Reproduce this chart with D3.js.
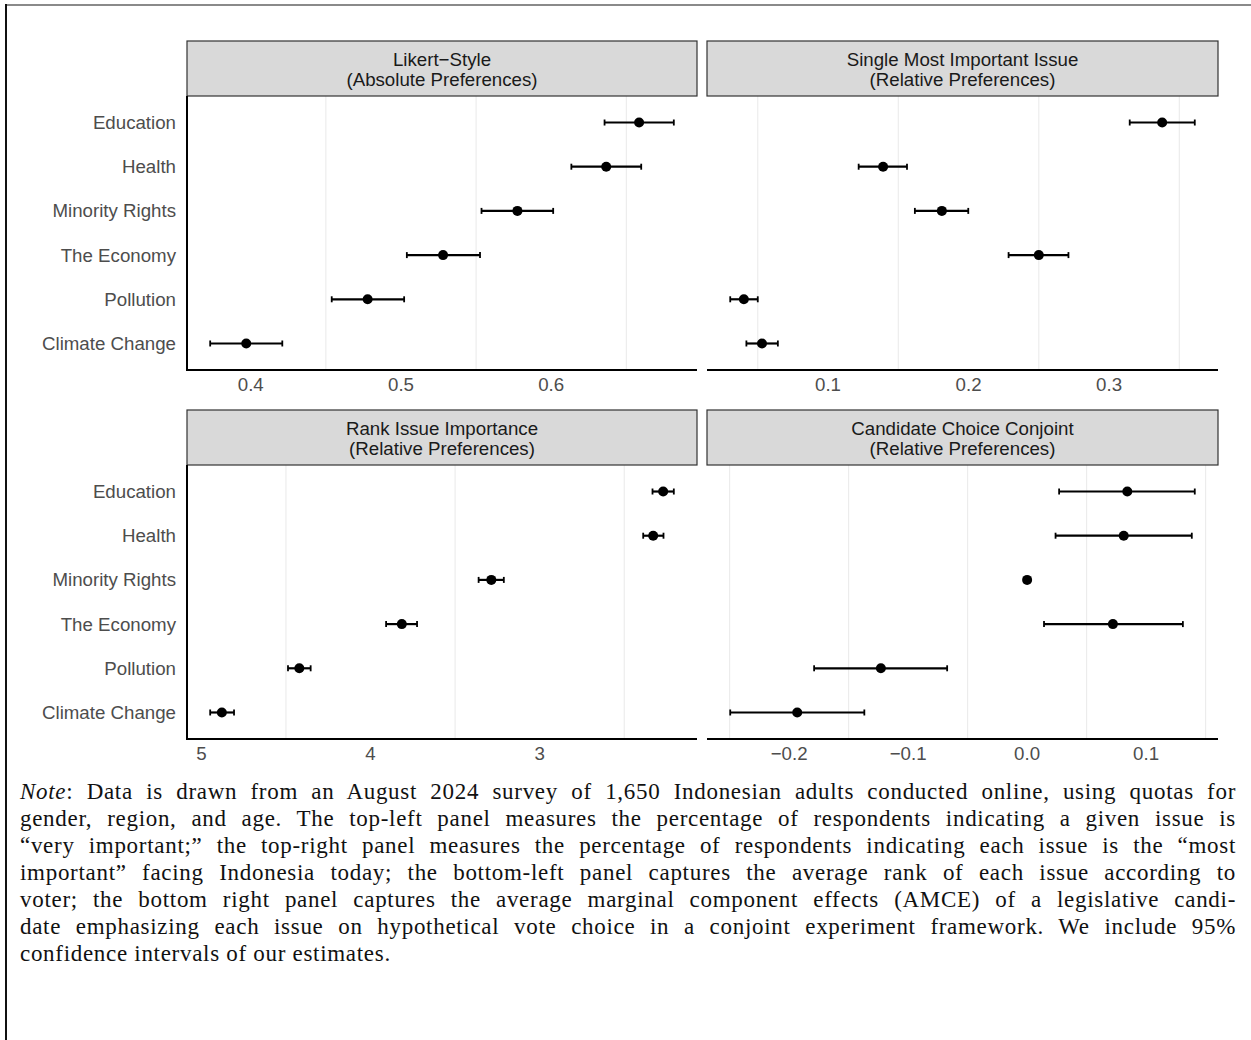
<!DOCTYPE html>
<html>
<head>
<meta charset="utf-8">
<script src="https://cdn.jsdelivr.net/npm/d3@7"></script>
<style>
  body { margin: 0; background: #fff; }
  #wrap { position: relative; width: 1251px; height: 1040px; overflow: hidden; }
  svg { position: absolute; left: 0; top: 0; }
  #note {
    position: absolute; left: 20px; top: 778px; width: 1216px;
    font-family: "Liberation Serif", "Times New Roman", serif;
    font-size: 23px; line-height: 27px; color: #111; letter-spacing: 0.7px;
  }
  #note div { text-align: justify; text-align-last: justify; white-space: nowrap; }
  #note div.last { text-align-last: left; }
</style>
</head>
<body>
<div id="wrap">
  <svg id="chart" width="1251" height="1040"></svg>
  <div id="note"></div>
</div>
<script>
// ---------------- data
const issues = ["Education", "Health", "Minority Rights", "The Economy", "Pollution", "Climate Change"];

const likertEst = [0.6585, 0.6366, 0.5775, 0.528, 0.4778, 0.397];
const likertLo  = [0.6355, 0.6134, 0.5536, 0.5039, 0.4539, 0.373];
const likertHi  = [0.6816, 0.6599, 0.6013, 0.5526, 0.5021, 0.421];

const mostEst = [0.3378, 0.1392, 0.181, 0.25, 0.0401, 0.053];
const mostLo  = [0.3147, 0.1218, 0.1618, 0.2285, 0.0304, 0.0419];
const mostHi  = [0.361, 0.1562, 0.1998, 0.2711, 0.05, 0.0643];

const rankEst = [2.27, 2.329, 3.286, 3.815, 4.421, 4.879];
const rankLo  = [2.207, 2.268, 3.212, 3.725, 4.354, 4.807];
const rankHi  = [2.333, 2.388, 3.361, 3.908, 4.488, 4.948];

const conjEst = [0.0842, 0.0812, 0, 0.0721, -0.1229, -0.1932];
const conjLo  = [0.0269, 0.0239, null, 0.0142, -0.179, -0.2495];
const conjHi  = [0.1409, 0.1384, null, 0.1309, -0.0672, -0.1368];

const likertTicks = [0.4, 0.5, 0.6];
const mostTicks = [0.1, 0.2, 0.3];
const rankTicks = [5, 4, 3];
const conjTicks = [-0.2, -0.1, 0, 0.1];
const likertTickLabels = ["0.4", "0.5", "0.6"];
const mostTickLabels = ["0.1", "0.2", "0.3"];
const rankTickLabels = ["5", "4", "3"];
const conjTickLabels = ["\u22120.2", "\u22120.1", "0.0", "0.1"];

const panelTitles = [
  ["Likert\u2212Style", "(Absolute Preferences)"],
  ["Single Most Important Issue", "(Relative Preferences)"],
  ["Rank Issue Importance", "(Relative Preferences)"],
  ["Candidate Choice Conjoint", "(Relative Preferences)"]
];

const noteLines = [
  "<em>Note</em>: Data is drawn from an August 2024 survey of 1,650 Indonesian adults conducted online, using quotas for",
  "gender, region, and age. The top-left panel measures the percentage of respondents indicating a given issue is",
  "\u201cvery important;\u201d the top-right panel measures the percentage of respondents indicating each issue is the \u201cmost",
  "important\u201d facing Indonesia today; the bottom-left panel captures the average rank of each issue according to",
  "voter; the bottom right panel captures the average marginal component effects (AMCE) of a legislative candi-",
  "date emphasizing each issue on hypothetical vote choice in a conjoint experiment framework. We include 95%",
  "confidence intervals of our estimates."
];

// ---------------- layout
const svg = d3.select("#chart");
const sans = "'Liberation Sans', Arial, Helvetica, sans-serif";
const fs = 18.7;

const colX = [[187, 697], [707, 1218]];
const rowY = [{ strip: 41, top: 96, bottom: 370 }, { strip: 410, top: 465, bottom: 739 }];

const panels = [
  { est: likertEst, lo: likertLo, hi: likertHi, ticks: likertTicks, labels: likertTickLabels, col: 0, row: 0, reverse: false },
  { est: mostEst, lo: mostLo, hi: mostHi, ticks: mostTicks, labels: mostTickLabels, col: 1, row: 0, reverse: false },
  { est: rankEst, lo: rankLo, hi: rankHi, ticks: rankTicks, labels: rankTickLabels, col: 0, row: 1, reverse: true },
  { est: conjEst, lo: conjLo, hi: conjHi, ticks: conjTicks, labels: conjTickLabels, col: 1, row: 1, reverse: false }
];

// outer frame
svg.append("line").attr("x1", 6).attr("x2", 1251).attr("y1", 5).attr("y2", 5)
  .attr("stroke", "#8a8a8a").attr("stroke-width", 2);
svg.append("line").attr("x1", 6).attr("x2", 6).attr("y1", 4).attr("y2", 1040)
  .attr("stroke", "#111").attr("stroke-width", 2);

panels.forEach((p, i) => {
  const [x0, x1] = colX[p.col];
  const r = rowY[p.row];
  const g = svg.append("g");

  // domain with ggplot's 5% expansion
  const all = p.est.concat(p.lo, p.hi).filter(v => v !== null);
  const [mn, mx] = d3.extent(all);
  const pad = (mx - mn) * 0.05;
  const x = d3.scaleLinear()
    .domain(p.reverse ? [mx + pad, mn - pad] : [mn - pad, mx + pad])
    .range([x0, x1]);
  const y = d3.scalePoint().domain(issues).range([r.top, r.bottom]).padding(0.6);

  // minor grid lines (between breaks)
  const step = p.ticks[1] - p.ticks[0];
  const minor = [p.ticks[0] - step / 2].concat(p.ticks.map(t => t + step / 2));
  const [d0, d1] = d3.extent(x.domain());
  g.selectAll(".grid")
    .data(minor.filter(v => v >= d0 && v <= d1))
    .join("line")
    .attr("class", "grid")
    .attr("x1", d => x(d)).attr("x2", d => x(d))
    .attr("y1", r.top).attr("y2", r.bottom)
    .attr("stroke", "#ebebeb").attr("stroke-width", 1.1);

  // strip
  g.append("rect")
    .attr("x", x0).attr("y", r.strip)
    .attr("width", x1 - x0).attr("height", r.top - r.strip)
    .attr("fill", "#d9d9d9").attr("stroke", "#333").attr("stroke-width", 1.2);
  g.append("text")
    .attr("x", (x0 + x1) / 2).attr("y", r.strip + 25)
    .attr("text-anchor", "middle")
    .attr("font-family", sans).attr("font-size", fs).attr("fill", "#1a1a1a")
    .selectAll("tspan")
    .data(panelTitles[i])
    .join("tspan")
    .attr("x", (x0 + x1) / 2)
    .attr("dy", (d, j) => j === 0 ? 0 : 19.5)
    .text(d => d);

  // axis lines
  g.append("line").attr("x1", x0).attr("x2", x1).attr("y1", r.bottom).attr("y2", r.bottom)
    .attr("stroke", "#000").attr("stroke-width", 2);
  if (p.col === 0) {
    g.append("line").attr("x1", x0).attr("x2", x0).attr("y1", r.top).attr("y2", r.bottom + 1)
      .attr("stroke", "#000").attr("stroke-width", 2);
    g.selectAll(".ylab")
      .data(issues)
      .join("text")
      .attr("class", "ylab")
      .attr("x", 176).attr("y", d => y(d))
      .attr("dy", "0.35em")
      .attr("text-anchor", "end")
      .attr("font-family", sans).attr("font-size", fs).attr("fill", "#4d4d4d")
      .text(d => d);
  }

  // x tick labels
  g.selectAll(".xlab")
    .data(p.ticks)
    .join("text")
    .attr("class", "xlab")
    .attr("x", d => x(d)).attr("y", r.bottom + 21)
    .attr("text-anchor", "middle")
    .attr("font-family", sans).attr("font-size", fs).attr("fill", "#4d4d4d")
    .text((d, j) => p.labels[j]);

  // error bars
  const rows = issues.map((d, j) => ({ issue: d, est: p.est[j], lo: p.lo[j], hi: p.hi[j] }));
  const withCI = rows.filter(d => d.lo !== null);
  g.selectAll(".ci")
    .data(withCI)
    .join("line")
    .attr("class", "ci")
    .attr("x1", d => x(d.lo)).attr("x2", d => x(d.hi))
    .attr("y1", d => y(d.issue)).attr("y2", d => y(d.issue))
    .attr("stroke", "#000").attr("stroke-width", 2.2);
  ["lo", "hi"].forEach(k => {
    g.selectAll(".cap-" + k)
      .data(withCI)
      .join("line")
      .attr("class", "cap-" + k)
      .attr("x1", d => x(d[k])).attr("x2", d => x(d[k]))
      .attr("y1", d => y(d.issue) - 3).attr("y2", d => y(d.issue) + 3)
      .attr("stroke", "#000").attr("stroke-width", 1.8);
  });
  g.selectAll(".pt")
    .data(rows)
    .join("circle")
    .attr("class", "pt")
    .attr("cx", d => x(d.est)).attr("cy", d => y(d.issue))
    .attr("r", 5)
    .attr("fill", "#000");
});

// note below the figure
d3.select("#note")
  .selectAll("div")
  .data(noteLines)
  .join("div")
  .attr("class", (d, i) => i === noteLines.length - 1 ? "last" : null)
  .html(d => d);
</script>
</body>
</html>
